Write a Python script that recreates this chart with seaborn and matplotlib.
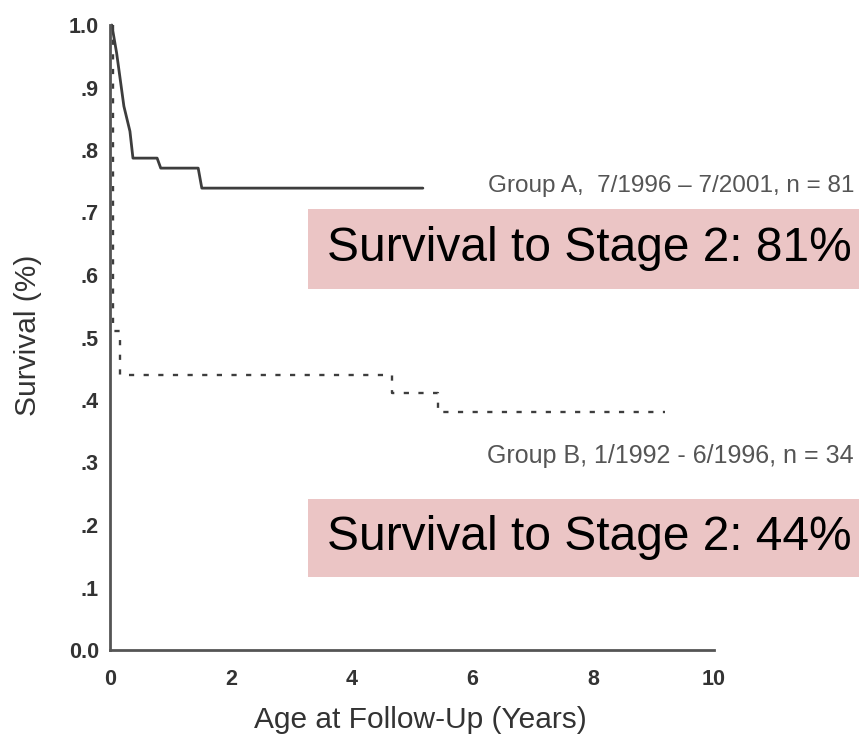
import matplotlib
matplotlib.use("Agg")
import matplotlib.pyplot as plt
from matplotlib.patches import Rectangle
import seaborn as sns
import pandas as pd

# Kaplan-Meier style survival curves (years of follow-up vs. survival fraction)
group_a_years = [0.03, 0.11, 0.23, 0.33, 0.38, 0.78, 0.84, 1.46, 1.52, 5.18]
group_a_survival = [1.00, 0.955, 0.87, 0.83, 0.787, 0.787, 0.771, 0.771, 0.739, 0.739]

group_b_years = [0.05, 0.05, 0.17, 0.17, 4.67, 4.67, 5.43, 5.43, 9.19]
group_b_survival = [1.00, 0.51, 0.51, 0.44, 0.44, 0.411, 0.411, 0.381, 0.381]

x_ticks = [0, 2, 4, 6, 8, 10]
y_ticks = [0.0, 0.1, 0.2, 0.3, 0.4, 0.5, 0.6, 0.7, 0.8, 0.9, 1.0]
y_tick_labels = ["0.0", ".1", ".2", ".3", ".4", ".5", ".6", ".7", ".8", ".9", "1.0"]

group_labels = ["Group A,  7/1996 \u2013 7/2001, n = 81", "Group B, 1/1992 - 6/1996, n = 34"]
stage2_labels = ["Survival to Stage 2: 81%", "Survival to Stage 2: 44%"]

sns.set_theme(style="white")
plt.rcParams["font.family"] = ["Liberation Sans", "DejaVu Sans"]

W, H = 859, 743
fig = plt.figure(figsize=(W / 100, H / 100), dpi=100)
fig.patch.set_facecolor("white")

ax = fig.add_axes([110 / W, 1 - 650 / H, 604 / W, 625 / H])
ax.set_facecolor("white")

line_color = "#3d3d3d"
df_a = pd.DataFrame({"years": group_a_years, "survival": group_a_survival})
df_b = pd.DataFrame({"years": group_b_years, "survival": group_b_survival})

sns.lineplot(data=df_a, x="years", y="survival", ax=ax, estimator=None, sort=False,
             color=line_color, linewidth=2.0, clip_on=False)
sns.lineplot(data=df_b, x="years", y="survival", ax=ax, estimator=None, sort=False,
             color=line_color, linewidth=1.7, clip_on=False,
             linestyle=(0, (2.2, 4.0)))

ax.set_xlim(0, 10)
ax.set_ylim(0, 1.0)
ax.set_xticks(x_ticks)
ax.set_xticklabels([str(v) for v in x_ticks])
ax.set_yticks(y_ticks)
ax.set_yticklabels(y_tick_labels)
ax.tick_params(axis="both", length=0, labelsize=15.5, labelcolor="#333333")
ax.tick_params(axis="y", pad=8)
ax.tick_params(axis="x", pad=14)
for lab in ax.get_xticklabels() + ax.get_yticklabels():
    lab.set_fontweight("bold")

for side in ["top", "right"]:
    ax.spines[side].set_visible(False)
for side in ["left", "bottom"]:
    ax.spines[side].set_color("#555555")
    ax.spines[side].set_linewidth(2.0)

ax.set_xlabel("Age at Follow-Up (Years)", fontsize=21.5, color="#333333")
ax.set_ylabel("Survival (%)", fontsize=21.5, color="#333333")
ax.xaxis.set_label_coords((420 - 110) / 604, -(720 - 650) / 625)
ax.yaxis.set_label_coords(-(110 - 28) / 604, (650 - 335) / 625)
ax.xaxis.label.set_va("center")
ax.yaxis.label.set_va("center")

# group descriptions to the right of each curve
fig.text(488 / W, 1 - 186 / H, group_labels[0], fontsize=17.5, color="#555555",
         ha="left", va="center")
fig.text(487 / W, 1 - 456 / H, group_labels[1], fontsize=18, color="#555555",
         ha="left", va="center")

# highlighted stage-2 survival call-outs
box_color = "#ebc5c5"
for top, bottom, label in [(209, 289, stage2_labels[0]), (499, 577, stage2_labels[1])]:
    fig.patches.append(Rectangle((308 / W, 1 - bottom / H), (W - 308) / W, (bottom - top) / H,
                                 transform=fig.transFigure, facecolor=box_color,
                                 edgecolor="none", zorder=3))
    fig.text(327 / W, 1 - (top + bottom) / 2 / H, label, fontsize=34.5, color="black",
             ha="left", va="center", zorder=4)

fig.savefig("out.png", dpi=100, facecolor="white")
